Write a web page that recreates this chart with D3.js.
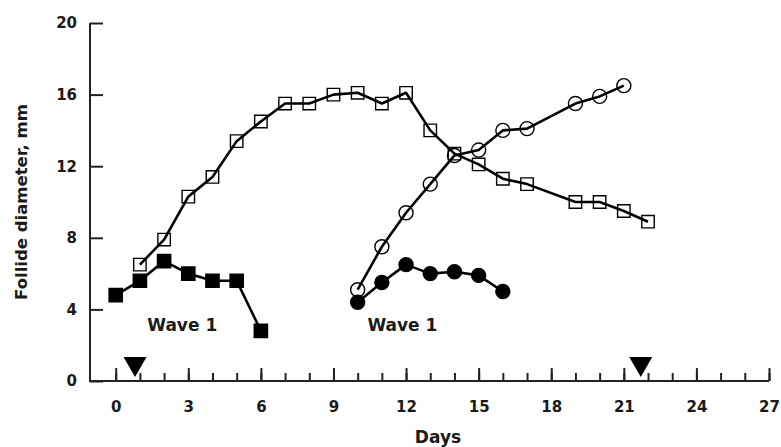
<!DOCTYPE html>
<html>
<head>
<meta charset="utf-8">
<script src="https://cdn.jsdelivr.net/npm/d3@7"></script>
<style>
body { margin: 0; background: #fff; }
svg text { font-family: "DejaVu Sans", sans-serif; font-weight: bold; fill: #1a1a1a; }
</style>
</head>
<body>
<svg width="781" height="447"></svg>
<script>
/********** Data **********/
// wave 1 dominant follicle (open squares)
var openSqDays = [1, 2, 3, 4, 5, 6, 7, 8, 9, 10, 11, 12, 13, 14, 15, 16, 17, 19, 20, 21, 22];
var openSqMm   = [6.5, 7.9, 10.3, 11.4, 13.4, 14.5, 15.5, 15.5, 16.0, 16.1, 15.5, 16.1, 14.0, 12.7, 12.1, 11.3, 11.0, 10.0, 10.0, 9.5, 8.9];

// wave 1 subordinate (filled squares)
var fillSqDays = [0, 1, 2, 3, 4, 5, 6];
var fillSqMm   = [4.8, 5.6, 6.7, 6.0, 5.6, 5.6, 2.8];

// second wave dominant (open circles)
var openCiDays = [10, 11, 12, 13, 14, 15, 16, 17, 19, 20, 21];
var openCiMm   = [5.1, 7.5, 9.4, 11.0, 12.6, 12.9, 14.0, 14.1, 15.5, 15.9, 16.5];

// second wave subordinate (filled circles)
var fillCiDays = [10, 11, 12, 13, 14, 15, 16];
var fillCiMm   = [4.4, 5.5, 6.5, 6.0, 6.1, 5.9, 5.0];

// ovulation markers
var ovDays = [0.8, 21.7];

// labels
var waveText = ["Wave 1", "Wave 1"];
var waveDay  = [2.75, 11.85];
var waveMm   = [2.8, 2.8];

var xTicks = d3.range(0, 28, 3);
var xMinor = d3.range(0, 28);
var yTicks = [0, 4, 8, 12, 16, 20];

/********** Chart **********/
var svg = d3.select("svg"),
    axisX0 = 90, axisY0 = 381;

var x = d3.scaleLinear().domain([0, 27]).range([115.7, 769]);
var y = d3.scaleLinear().domain([0, 20]).range([381, 23]);

function zip(a, b) { return a.map(function(d, i) { return [d, b[i]]; }); }

// x axis - minor ticks
svg.append("g")
    .attr("transform", "translate(0," + axisY0 + ")")
    .call(d3.axisBottom(x).tickValues(xMinor).tickSize(-8).tickFormat(""))
    .call(function(g) { g.select(".domain").remove(); })
    .selectAll("line").attr("stroke", "#222").attr("stroke-width", 2);

// x axis - major ticks + labels
var gx = svg.append("g")
    .attr("transform", "translate(0," + axisY0 + ")")
    .call(d3.axisBottom(x).tickValues(xTicks).tickSize(-13).tickFormat(d3.format("d")))
    .call(function(g) { g.select(".domain").remove(); });
gx.selectAll("line").attr("stroke", "#222").attr("stroke-width", 2);
gx.selectAll("text")
    .attr("y", 26).attr("dy", "0.35em")
    .style("font-size", "15px").style("font-family", null);

// y axis
var gy = svg.append("g")
    .attr("transform", "translate(" + axisX0 + ",0)")
    .call(d3.axisLeft(y).tickValues(yTicks).tickSize(-13).tickPadding(13))
    .call(function(g) { g.select(".domain").remove(); });
gy.selectAll("line").attr("stroke", "#222").attr("stroke-width", 2);
gy.selectAll("text").style("font-size", "15px").style("font-family", null);

// axis lines
svg.append("line")
    .attr("x1", axisX0).attr("x2", x(27))
    .attr("y1", axisY0).attr("y2", axisY0)
    .attr("stroke", "#222").attr("stroke-width", 2);
svg.append("line")
    .attr("x1", axisX0).attr("x2", axisX0)
    .attr("y1", y(20)).attr("y2", axisY0 + 1)
    .attr("stroke", "#222").attr("stroke-width", 2);

// axis titles
svg.append("text")
    .attr("x", 438).attr("y", 443)
    .attr("text-anchor", "middle")
    .style("font-size", "17px")
    .text("Days");

svg.append("text")
    .attr("transform", "translate(27,202) rotate(-90)")
    .attr("text-anchor", "middle")
    .style("font-size", "16.5px")
    .text("Follide diameter, mm");

/********** Series **********/
var line = d3.line()
    .x(function(d) { return x(d[0]); })
    .y(function(d) { return y(d[1]); });

var series = [
    {pts: zip(fillSqDays, fillSqMm), shape: "square", fill: "#000"},
    {pts: zip(openSqDays, openSqMm), shape: "square", fill: "none"},
    {pts: zip(fillCiDays, fillCiMm), shape: "circle", fill: "#000"},
    {pts: zip(openCiDays, openCiMm), shape: "circle", fill: "none"}
];

series.forEach(function(s) {
    svg.append("path")
        .datum(s.pts)
        .attr("d", line)
        .attr("fill", "none")
        .attr("stroke", "#000")
        .attr("stroke-width", 2.6)
        .attr("stroke-linejoin", "round");

    var sym = d3.symbol()
        .type(s.shape == "square" ? d3.symbolSquare : d3.symbolCircle)
        .size(s.shape == "square" ? (s.fill == "none" ? 155 : 175) : 155);

    svg.append("g").selectAll("path")
        .data(s.pts)
        .enter().append("path")
        .attr("transform", function(d) { return "translate(" + x(d[0]) + "," + y(d[1]) + ")"; })
        .attr("d", sym)
        .attr("fill", s.fill)
        .attr("stroke", "#000")
        .attr("stroke-width", 1.4);
});

// ovulation triangles
svg.append("g").selectAll("path")
    .data(ovDays)
    .enter().append("path")
    .attr("transform", function(d) { return "translate(" + x(d) + "," + (axisY0 - 4) + ")"; })
    .attr("d", "M0,0L-11.5,-20L11.5,-20Z")
    .attr("fill", "#000");

// wave labels
svg.append("g").selectAll("text")
    .data(waveText)
    .enter().append("text")
    .attr("x", function(d, i) { return x(waveDay[i]); })
    .attr("y", function(d, i) { return y(waveMm[i]); })
    .attr("text-anchor", "middle")
    .style("font-size", "17px")
    .text(function(d) { return d; });
</script>
</body>
</html>
